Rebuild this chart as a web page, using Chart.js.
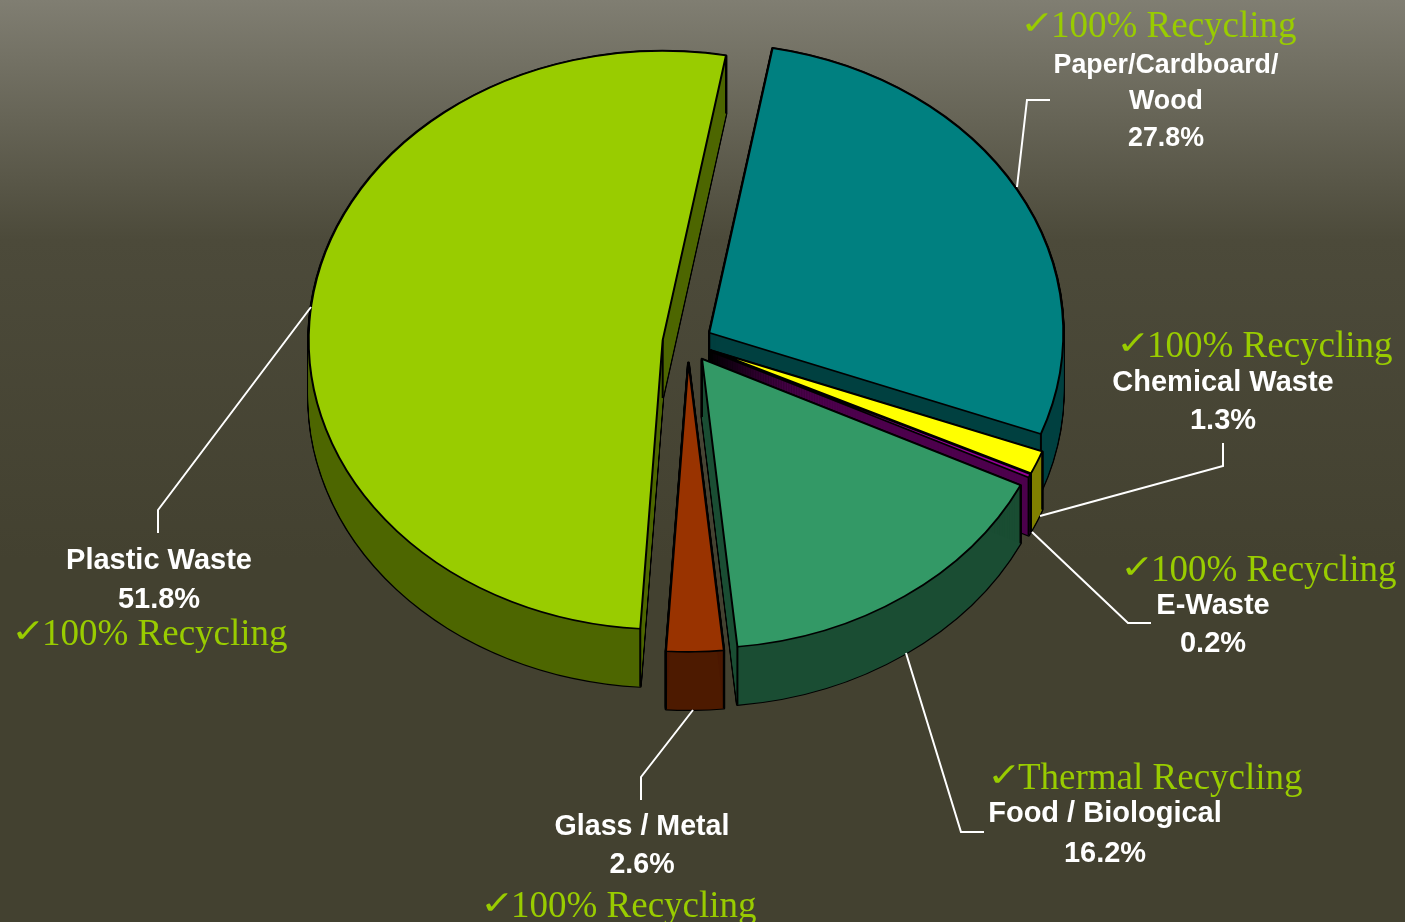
<!DOCTYPE html>
<html><head><meta charset="utf-8">
<style>
html,body{margin:0;padding:0;background:#434130;}
#wrap{position:relative;width:1405px;height:922px;overflow:hidden;
background:linear-gradient(to bottom,#807e72 0px,#4c4a3a 240px,#434130 560px,#434130 922px);}
</style>
<script src="https://cdn.jsdelivr.net/npm/chart.js@4"></script>
</head><body><div id="wrap"><canvas id="c" width="1405" height="922"></canvas></div>
<script>
const categories = ['Paper/Cardboard/ Wood','Chemical Waste','E-Waste','Food / Biological','Glass / Metal','Plastic Waste'];
const shares = [27.8,1.3,0.2,16.2,2.6,51.8];
const topColors = ['#008080','#ffff00','#990099','#339966','#993300','#99cc00'];
const wallColors = ['#004040','#808000','#4d004d','#1a4d33','#4d1a00','#4d6600'];
const labelLines = [['Paper/Cardboard/','Wood','27.8%'],['Chemical Waste','1.3%'],['E-Waste','0.2%'],['Food / Biological','16.2%'],['Glass / Metal','2.6%'],['Plastic Waste','51.8%']];
const recyclingNotes = ['100% Recycling','100% Recycling','100% Recycling','Thermal Recycling','100% Recycling','100% Recycling'];

const TILT = 0.817, DEPTH = 58, TOP_CY = 342.6;
const explodeBy = [24.5,24.5,24.5,24.5,24.5,25.5];

const pie3d = {
  id:'pie3d',
  beforeDatasetDraw(chart,args){
    const ctx = chart.ctx, arcs = args.meta.data;
    const cy0 = arcs[0].y;
    const order = [5,0,1,2,3,4];
    ctx.save();
    ctx.translate(0, TOP_CY - cy0*TILT);
    ctx.scale(1,TILT);
    const shifted = (i,d,fn)=>{
      const arc=arcs[i], mid=(arc.startAngle+arc.endAngle)/2;
      ctx.save();
      ctx.translate(Math.cos(mid)*explodeBy[i], Math.sin(mid)*explodeBy[i] + d/TILT);
      fn(); ctx.restore();
    };
    order.forEach(i=>{
      const arc=arcs[i], base=arc.options;
      arc.options=Object.assign({},base,{backgroundColor:'#000',borderColor:'#000',borderWidth:2.8});
      for(let d=0;d<=DEPTH;d++) shifted(i,d,()=>arc.draw(ctx));
      arc.options=Object.assign({},base,{backgroundColor:wallColors[i],borderColor:wallColors[i],borderWidth:0});
      for(let d=0;d<=DEPTH;d++) shifted(i,d,()=>arc.draw(ctx));
      arc.options=base;
      shifted(i,0,()=>{
        ctx.strokeStyle='#000';ctx.lineWidth=2;
        const pts=[[arc.x,arc.y],
          [arc.x+Math.cos(arc.startAngle)*arc.outerRadius,arc.y+Math.sin(arc.startAngle)*arc.outerRadius],
          [arc.x+Math.cos(arc.endAngle)*arc.outerRadius,arc.y+Math.sin(arc.endAngle)*arc.outerRadius]];
        pts.forEach(p=>{ctx.beginPath();ctx.moveTo(p[0],p[1]);ctx.lineTo(p[0],p[1]+DEPTH/TILT);ctx.stroke();});
      });
    });
    order.forEach(i=>{shifted(i,0,()=>arcs[i].draw(ctx));});
    ctx.restore();
    return false;
  },
  afterDraw(chart){
    const ctx=chart.ctx;
    const leaders=[
      [[1017,187],[1027,100],[1050,100]],
      [[1040,516],[1223,466],[1223,443]],
      [[1032,532],[1128,623],[1151,623]],
      [[906,653],[961,832],[984,832]],
      [[693,710],[641,777],[641,800]],
      [[311,307],[158,510],[158,533]]
    ];
    ctx.save();
    ctx.strokeStyle='#ffffff';ctx.lineWidth=2;ctx.lineJoin='miter';
    leaders.forEach(l=>{ctx.beginPath();l.forEach((p,j)=>j?ctx.lineTo(p[0],p[1]):ctx.moveTo(p[0],p[1]));ctx.stroke();});
    const labelPos=[
      [1166,[73,109,146]],[1223,[391,429]],[1213,[614,652]],[1105,[822,862]],[642,[835,873]],[159,[569,608]]
    ];
    const labelSize=[26.8,29,29,29,28.6,29];
    ctx.fillStyle='#ffffff';ctx.textAlign='center';ctx.textBaseline='alphabetic';
    labelLines.forEach((lines,i)=>{
      ctx.font='bold '+labelSize[i]+'px "Liberation Sans"';
      lines.forEach((t,j)=>ctx.fillText(t,labelPos[i][0],labelPos[i][1][j]));
    });
    const notePos=[[1051,37],[1147,357],[1151,581],[1018,789],[511,917],[42,645]];
    ctx.fillStyle='#99cc00';ctx.textAlign='left';
    recyclingNotes.forEach((t,i)=>{
      ctx.font='37px "Liberation Serif"';
      ctx.fillText(t,notePos[i][0],notePos[i][1]);
      ctx.save();
      ctx.translate(notePos[i][0]-31,notePos[i][1]-3);
      ctx.scale(1.25,1);
      ctx.font='bold 33px "DejaVu Sans"';
      ctx.fillText('\u2713',0,0);
      ctx.restore();
    });
    ctx.restore();
  }
};

new Chart(document.getElementById('c'),{
  type:'pie',
  data:{labels:categories,datasets:[{data:shares,backgroundColor:topColors,borderColor:'#000000',borderWidth:2,borderJoinStyle:'round'}]},
  options:{
    responsive:false,animation:false,rotation:10.3,
    layout:{padding:{left:333,right:362,top:106,bottom:106}},
    plugins:{legend:{display:false},tooltip:{enabled:false},title:{display:false}}
  },
  plugins:[pie3d]
});
</script></body></html>
